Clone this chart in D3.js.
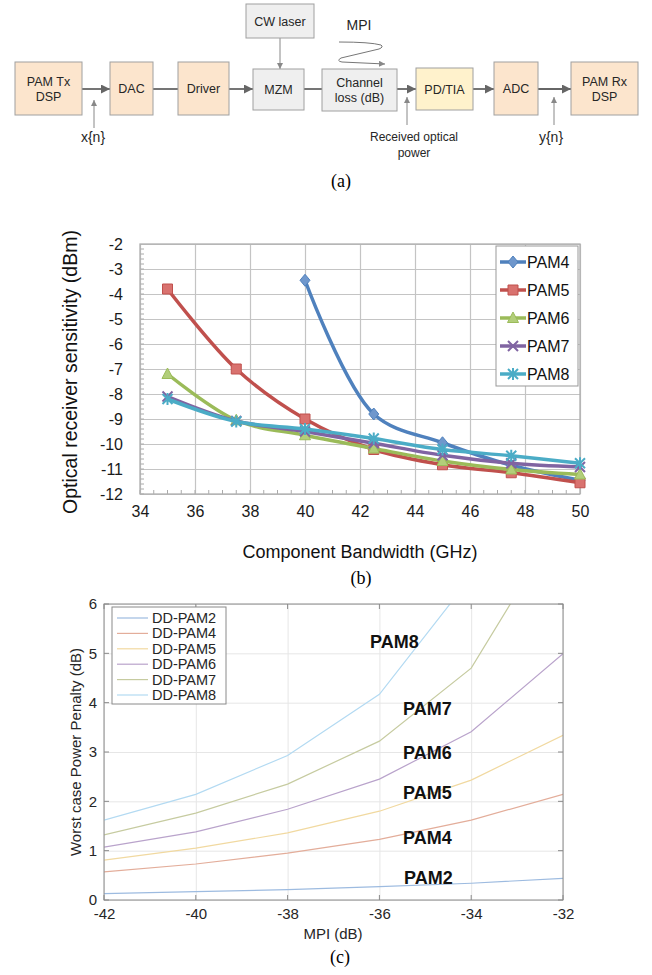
<!DOCTYPE html>
<html>
<head>
<meta charset="utf-8">
<script src="https://cdn.jsdelivr.net/npm/d3@7"></script>
<style>
  body { margin: 0; background: #fff; }
  svg { display: block; font-family: "Liberation Sans", Arial, sans-serif; }
</style>
</head>
<body>
<svg id="fig" width="652" height="975"></svg>
<script>
// ---- panel (b) data: sensitivity vs component bandwidth
const bandwidthGHz = [35, 37.5, 40, 42.5, 45, 47.5, 50];
const pam4Sens = [null, null, -3.45, -8.8, -9.95, -10.85, -11.45];
const pam5Sens = [-3.8, -7.0, -9.0, -10.22, -10.83, -11.15, -11.55];
const pam6Sens = [-7.2, -9.05, -9.65, -10.18, -10.68, -11.02, -11.22];
const pam7Sens = [-8.1, -9.08, -9.5, -9.97, -10.45, -10.77, -10.92];
const pam8Sens = [-8.2, -9.1, -9.4, -9.78, -10.22, -10.47, -10.77];
const sensNames = ["PAM4", "PAM5", "PAM6", "PAM7", "PAM8"];
const bwTicks = [34, 36, 38, 40, 42, 44, 46, 48, 50];
const sensTicks = [-12, -11, -10, -9, -8, -7, -6, -5, -4, -3, -2];

// ---- panel (c) data: power penalty vs MPI
const mpiDb = [-42, -40, -38, -36, -34, -32];
const pam2Pen = [0.13, 0.17, 0.21, 0.27, 0.34, 0.44];
const pam4Pen = [0.57, 0.73, 0.95, 1.23, 1.62, 2.14];
const pam5Pen = [0.81, 1.05, 1.36, 1.80, 2.43, 3.34];
const pam6Pen = [1.07, 1.38, 1.84, 2.45, 3.41, 4.99];
const pam7Pen = [1.32, 1.76, 2.35, 3.22, 4.70, 7.75];
const pam8Pen = [1.62, 2.14, 2.93, 4.17, 6.55, 9.5];
const penNames = ["DD-PAM2", "DD-PAM4", "DD-PAM5", "DD-PAM6", "DD-PAM7", "DD-PAM8"];
const penLabels = ["PAM2", "PAM4", "PAM5", "PAM6", "PAM7", "PAM8"];
const mpiTicks = [-42, -40, -38, -36, -34, -32];
const penTicks = [0, 1, 2, 3, 4, 5, 6];

// ---- panel (a) block labels
const blockText = [["PAM Tx", "DSP"], ["DAC"], ["Driver"], ["MZM"], ["CW laser"],
                   ["Channel", "loss (dB)"], ["PD/TIA"], ["ADC"], ["PAM Rx", "DSP"]];

const svg = d3.select("#fig");
const peach = "#fce5cd", grey = "#efefef", yellow = "#fff2cc";
const plain = d => String(d);   // hyphen minus, like the original

// ================= (a) block diagram =================
const boxes = [
  {x: 15, y: 62, w: 67, h: 53, fill: peach},
  {x: 110, y: 62, w: 43, h: 53, fill: peach},
  {x: 178, y: 62, w: 51, h: 53, fill: peach},
  {x: 253, y: 69, w: 51, h: 41, fill: grey},
  {x: 246, y: 4, w: 68, h: 34, fill: grey},
  {x: 322, y: 69, w: 75, h: 42, fill: grey},
  {x: 416, y: 68, w: 57, h: 42, fill: yellow},
  {x: 494, y: 62, w: 44, h: 53, fill: peach},
  {x: 571, y: 62, w: 67, h: 53, fill: peach}
];

const defs = svg.append("defs");
defs.append("marker").attr("id", "ah")
  .attr("viewBox", "0 0 10 10").attr("refX", 10).attr("refY", 5)
  .attr("markerWidth", 9).attr("markerHeight", 9).attr("markerUnits", "userSpaceOnUse")
  .attr("orient", "auto")
  .append("path").attr("d", "M0,0 L10,5 L0,10 z").attr("fill", "#666");
defs.append("marker").attr("id", "ahs")
  .attr("viewBox", "0 0 10 10").attr("refX", 10).attr("refY", 5)
  .attr("markerWidth", 6).attr("markerHeight", 6).attr("markerUnits", "userSpaceOnUse")
  .attr("orient", "auto")
  .append("path").attr("d", "M0,0 L10,5 L0,10 z").attr("fill", "#888");

const diag = svg.append("g");
const links = [
  [82, 89, 110, 89, true], [153, 89, 178, 89, false], [229, 89, 253, 89, true],
  [304, 89, 322, 89, false], [397, 89, 416, 89, true], [473, 89, 494, 89, true],
  [538, 89, 571, 89, true]
];
diag.selectAll("line.link").data(links).enter().append("line")
  .attr("x1", d => d[0]).attr("y1", d => d[1]).attr("x2", d => d[2]).attr("y2", d => d[3])
  .attr("stroke", "#666").attr("stroke-width", 1.8)
  .attr("marker-end", d => d[4] ? "url(#ah)" : null);

const pointers = [[280, 38, 280, 69], [94, 128, 94, 100], [407, 125, 407, 97], [554, 125, 554, 97]];
diag.selectAll("line.ptr").data(pointers).enter().append("line")
  .attr("x1", d => d[0]).attr("y1", d => d[1]).attr("x2", d => d[2]).attr("y2", d => d[3])
  .attr("stroke", "#888").attr("stroke-width", 1)
  .attr("marker-end", "url(#ahs)");

const bg = diag.selectAll("g.box").data(boxes).enter().append("g");
bg.append("rect")
  .attr("x", d => d.x).attr("y", d => d.y).attr("width", d => d.w).attr("height", d => d.h)
  .attr("fill", d => d.fill).attr("stroke", "#a0a0a0").attr("stroke-width", 1);
bg.each(function (d, i) {
  const lines = blockText[i];
  const t = d3.select(this).append("text")
    .attr("text-anchor", "middle").attr("font-size", 12.5).attr("fill", "#262626");
  lines.forEach((s, k) => {
    t.append("tspan").attr("x", d.x + d.w / 2)
      .attr("y", d.y + d.h / 2 + 4.5 + (k - (lines.length - 1) / 2) * 15)
      .text(s);
  });
});

diag.append("text").attr("x", 359).attr("y", 30).attr("text-anchor", "middle")
  .attr("font-size", 14).attr("fill", "#262626").text("MPI");
diag.append("path")
  .attr("d", "M339,42 Q370,42 381,45 Q384,47 379,49 L341,58 Q336,61 342,62 L385,64")
  .attr("fill", "none").attr("stroke", "#777").attr("stroke-width", 1)
  .attr("marker-end", "url(#ahs)");
diag.append("text").attr("x", 93).attr("y", 142).attr("text-anchor", "middle")
  .attr("font-size", 14).attr("fill", "#262626").text("x{n}");
diag.append("text").attr("x", 551).attr("y", 142).attr("text-anchor", "middle")
  .attr("font-size", 14).attr("fill", "#262626").text("y{n}");
diag.append("text").attr("x", 414).attr("y", 141).attr("text-anchor", "middle")
  .attr("font-size", 12).attr("fill", "#262626").text("Received optical");
diag.append("text").attr("x", 414).attr("y", 157).attr("text-anchor", "middle")
  .attr("font-size", 12).attr("fill", "#262626").text("power");
diag.append("text").attr("x", 341).attr("y", 187).attr("text-anchor", "middle")
  .attr("font-family", "Liberation Serif, Times New Roman, serif")
  .attr("font-size", 18).text("(a)");

// ================= (b) sensitivity chart =================
const bx = d3.scaleLinear().domain([34, 50]).range([140, 580]);
const by = d3.scaleLinear().domain([-12, -2]).range([494, 244]);
const pb = svg.append("g");

pb.append("g").attr("transform", "translate(0,494)")
  .call(d3.axisBottom(bx).tickValues(bwTicks).tickSize(-250).tickPadding(12).tickFormat(plain))
  .call(g => g.select(".domain").remove())
  .call(g => g.selectAll("line").attr("stroke", "#c4c4c4").attr("stroke-width", 1.2))
  .call(g => g.selectAll("text").attr("font-size", 16).attr("fill", "#1a1a1a")
    .attr("font-family", "Liberation Sans, Arial, sans-serif"));
pb.append("g").attr("transform", "translate(140,0)")
  .call(d3.axisLeft(by).tickValues(sensTicks).tickSize(-440).tickPadding(17).tickFormat(plain))
  .call(g => g.select(".domain").remove())
  .call(g => g.selectAll("line").attr("stroke", "#c4c4c4").attr("stroke-width", 1.2))
  .call(g => g.selectAll("text").attr("font-size", 16).attr("fill", "#1a1a1a")
    .attr("font-family", "Liberation Sans, Arial, sans-serif"));
// minor ticks
pb.append("g").selectAll("line").data(d3.range(-12, -2, 0.2)).enter().append("line")
  .attr("x1", 140).attr("x2", 144).attr("y1", d => by(d)).attr("y2", d => by(d))
  .attr("stroke", "#aaa");
pb.append("g").selectAll("line").data(d3.range(34, 50, 0.5)).enter().append("line")
  .attr("x1", d => bx(d)).attr("x2", d => bx(d)).attr("y1", 494).attr("y2", 490)
  .attr("stroke", "#aaa");
pb.append("rect").attr("x", 140).attr("y", 244).attr("width", 440).attr("height", 250)
  .attr("fill", "none").attr("stroke", "#b0b0b0").attr("stroke-width", 1.3);

const sensStyle = [
  {c: "#4f81bd", f: "#6f97cc", m: "diamond"},
  {c: "#c0504d", f: "#d9726f", m: "square"},
  {c: "#9bbb59", f: "#b2ce7a", m: "triangle"},
  {c: "#8064a2", f: "#8064a2", m: "x"},
  {c: "#4bacc6", f: "#4bacc6", m: "star"}
];
function markerPath(m) {
  if (m === "diamond") return "M0,-6 L5,0 L0,6 L-5,0 Z";
  if (m === "square") return "M-5,-5 H5 V5 H-5 Z";
  if (m === "triangle") return "M0,-6 L5.5,4.5 L-5.5,4.5 Z";
  if (m === "x") return "M-5,-5 L5,5 M-5,5 L5,-5";
  return "M-5,-5 L5,5 M-5,5 L5,-5 M0,-6 V6";
}
const sensData = [pam4Sens, pam5Sens, pam6Sens, pam7Sens, pam8Sens];
const sensLine = d3.line()
  .defined(d => d[1] != null)
  .x(d => bx(d[0])).y(d => by(d[1]))
  .curve(d3.curveCatmullRom.alpha(0.5));
sensData.forEach((vals, i) => {
  const pts = bandwidthGHz.map((b, k) => [b, vals[k]]).filter(d => d[1] != null);
  const st = sensStyle[i];
  pb.append("path").datum(pts).attr("d", sensLine)
    .attr("fill", "none").attr("stroke", st.c).attr("stroke-width", 3.5)
    .attr("stroke-linejoin", "round");
  pb.append("g").selectAll("path").data(pts).enter().append("path")
    .attr("transform", d => `translate(${bx(d[0])},${by(d[1])})`)
    .attr("d", markerPath(st.m))
    .attr("fill", st.m === "x" || st.m === "star" ? "none" : st.f)
    .attr("stroke", st.c).attr("stroke-width", st.m === "x" || st.m === "star" ? 2 : 1);
});

// legend (b)
const lb = pb.append("g");
lb.append("rect").attr("x", 496).attr("y", 246).attr("width", 82).attr("height", 140)
  .attr("fill", "#fff").attr("stroke", "#999").attr("stroke-width", 1);
sensNames.forEach((n, i) => {
  const y = 262 + i * 28, st = sensStyle[i];
  lb.append("line").attr("x1", 500).attr("x2", 526).attr("y1", y).attr("y2", y)
    .attr("stroke", st.c).attr("stroke-width", 3.5);
  lb.append("path").attr("transform", `translate(513,${y})`).attr("d", markerPath(st.m))
    .attr("fill", st.m === "x" || st.m === "star" ? "none" : st.f)
    .attr("stroke", st.c).attr("stroke-width", st.m === "x" || st.m === "star" ? 2 : 1);
  lb.append("text").attr("x", 527).attr("y", y + 6).attr("font-size", 16)
    .attr("fill", "#111").text(n);
});

pb.append("text").attr("transform", "translate(77,372) rotate(-90)")
  .attr("text-anchor", "middle").attr("font-size", 19.5).attr("fill", "#111")
  .text("Optical receiver sensitivity (dBm)");
pb.append("text").attr("x", 360).attr("y", 558).attr("text-anchor", "middle")
  .attr("font-size", 18).attr("fill", "#111").text("Component Bandwidth (GHz)");
pb.append("text").attr("x", 361).attr("y", 584).attr("text-anchor", "middle")
  .attr("font-family", "Liberation Serif, Times New Roman, serif")
  .attr("font-size", 18).text("(b)");

// ================= (c) power penalty chart =================
const cx = d3.scaleLinear().domain([-42, -32]).range([104, 563]);
const cy = d3.scaleLinear().domain([0, 6]).range([900, 604]);
const pc = svg.append("g");

pc.append("g").attr("transform", "translate(0,900)")
  .call(d3.axisBottom(cx).tickValues(mpiTicks).tickSize(-296).tickPadding(8).tickFormat(plain))
  .call(g => g.select(".domain").remove())
  .call(g => g.selectAll("line").attr("stroke", "#e6e6e6"))
  .call(g => g.selectAll("text").attr("font-size", 15).attr("fill", "#262626")
    .attr("font-family", "Liberation Sans, Arial, sans-serif"));
pc.append("g").attr("transform", "translate(104,0)")
  .call(d3.axisLeft(cy).tickValues(penTicks).tickSize(-459).tickPadding(7).tickFormat(plain))
  .call(g => g.select(".domain").remove())
  .call(g => g.selectAll("line").attr("stroke", "#e6e6e6"))
  .call(g => g.selectAll("text").attr("font-size", 15).attr("fill", "#262626")
    .attr("font-family", "Liberation Sans, Arial, sans-serif"));
// inward ticks on all four sides
const tk = pc.append("g").attr("stroke", "#8a8a8a");
mpiTicks.forEach(v => {
  tk.append("line").attr("x1", cx(v)).attr("x2", cx(v)).attr("y1", 900).attr("y2", 895);
  tk.append("line").attr("x1", cx(v)).attr("x2", cx(v)).attr("y1", 604).attr("y2", 609);
});
penTicks.forEach(v => {
  tk.append("line").attr("x1", 104).attr("x2", 109).attr("y1", cy(v)).attr("y2", cy(v));
  tk.append("line").attr("x1", 563).attr("x2", 558).attr("y1", cy(v)).attr("y2", cy(v));
});

defs.append("clipPath").attr("id", "clipc").append("rect")
  .attr("x", 104).attr("y", 604).attr("width", 459).attr("height", 296);
const penColors = ["#9dbbe0", "#e3ad9a", "#f1d9a0", "#b9a3cb", "#c6cba0", "#b3daf2"];
const penData = [pam2Pen, pam4Pen, pam5Pen, pam6Pen, pam7Pen, pam8Pen];
const penLine = d3.line().x(d => cx(d[0])).y(d => cy(d[1]));
const lines = pc.append("g").attr("clip-path", "url(#clipc)");
penData.forEach((vals, i) => {
  lines.append("path").datum(mpiDb.map((m, k) => [m, vals[k]]))
    .attr("d", penLine).attr("fill", "none")
    .attr("stroke", penColors[i]).attr("stroke-width", 1.2);
});
pc.append("rect").attr("x", 104).attr("y", 604).attr("width", 459).attr("height", 296)
  .attr("fill", "none").attr("stroke", "#8a8a8a").attr("stroke-width", 1);

// legend (c)
const lc = pc.append("g");
lc.append("rect").attr("x", 112).attr("y", 607).attr("width", 114).attr("height", 97)
  .attr("fill", "#fff").attr("stroke", "#8a8a8a").attr("stroke-width", 1);
penNames.forEach((n, i) => {
  const y = 618 + i * 15.4;
  lc.append("line").attr("x1", 117).attr("x2", 148).attr("y1", y).attr("y2", y)
    .attr("stroke", penColors[i]).attr("stroke-width", 1.2);
  lc.append("text").attr("x", 152).attr("y", y + 5).attr("font-size", 14.5)
    .attr("fill", "#262626").text(n);
});

// curve labels
const labelPos = [[404, 877], [403, 837], [403, 792], [403, 752], [403, 708], [370, 641]];
pc.selectAll("text.lab").data(penLabels).enter().append("text")
  .attr("x", (d, i) => labelPos[i][0]).attr("y", (d, i) => labelPos[i][1] + 6.5)
  .attr("font-size", 18).attr("font-weight", "bold").attr("fill", "#111").text(d => d);

pc.append("text").attr("transform", "translate(81,752) rotate(-90)")
  .attr("text-anchor", "middle").attr("font-size", 15).attr("fill", "#262626")
  .text("Worst case Power Penalty (dB)");
pc.append("text").attr("x", 333).attr("y", 939).attr("text-anchor", "middle")
  .attr("font-size", 15).attr("fill", "#262626").text("MPI (dB)");
pc.append("text").attr("x", 340).attr("y", 963).attr("text-anchor", "middle")
  .attr("font-family", "Liberation Serif, Times New Roman, serif")
  .attr("font-size", 18).text("(c)");
</script>
</body>
</html>
